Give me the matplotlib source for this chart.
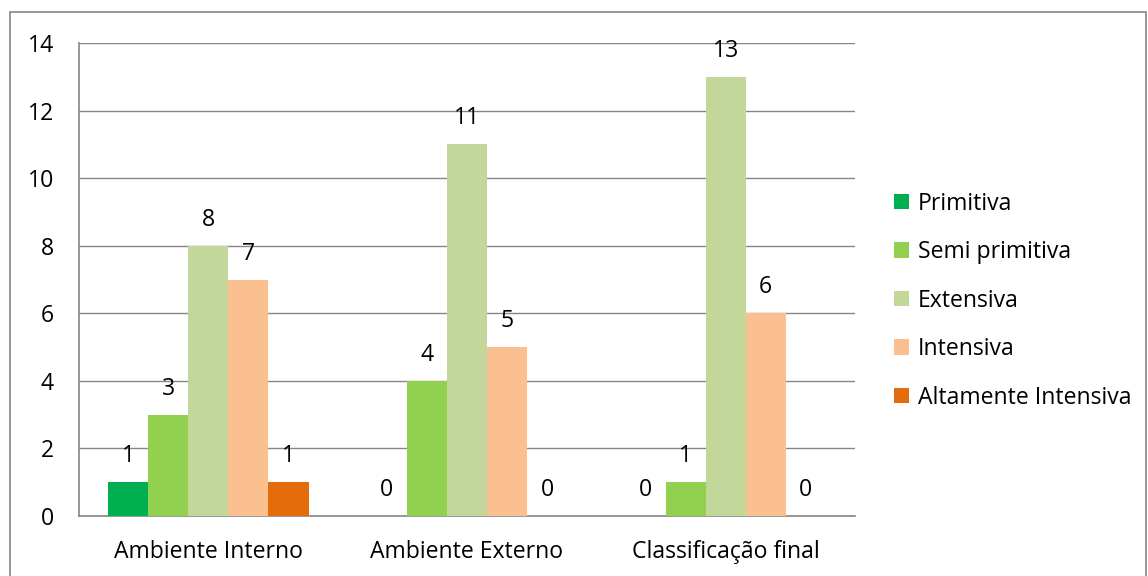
import numpy as np
from matplotlib import pyplot as plt
from matplotlib.patches import Rectangle

# data
categories = ['Ambiente Interno', 'Ambiente Externo', 'Classificação final']
series = ['Primitiva', 'Semi primitiva', 'Extensiva', 'Intensiva', 'Altamente Intensiva']
values = {
    'Primitiva': [1, 0, 0],
    'Semi primitiva': [3, 4, 1],
    'Extensiva': [8, 11, 13],
    'Intensiva': [7, 5, 6],
    'Altamente Intensiva': [1, 0, 0],
}
colors = ['#00B050', '#92D050', '#C4D79B', '#FAC090', '#E46C0A']

plt.rcParams['font.family'] = ['Open Sans', 'DejaVu Sans']
fs = 16.6

fig = plt.figure(figsize=(11.48, 5.76), dpi=100)
ax = fig.add_axes([0.0688, 0.1042, 0.676, 0.8211])

# outer chart border
fig.patches.append(Rectangle((10/1148, -0.02), 1137/1148 - 0.0005, 1 - 12/576 + 0.02,
                             transform=fig.transFigure, fill=False,
                             edgecolor='#868686', lw=1.2))

x = np.arange(len(categories))
w = 0.155
for i, (name, c) in enumerate(zip(series, colors)):
    bars = ax.bar(x + (i - 2) * w, values[name], w, color=c, label=name, zorder=3)
    ax.bar_label(bars, padding=10, fontsize=fs)

ax.set_xlim(-0.5, 2.5)
ax.set_ylim(0, 14)
ax.set_yticks(range(0, 15, 2))
ax.set_xticks(x)
ax.set_xticklabels(categories)
ax.tick_params(axis='both', length=0, labelsize=fs)
ax.tick_params(axis='x', pad=17)
ax.tick_params(axis='y', pad=18)
ax.grid(axis='y', color='#868686', lw=1, zorder=0)
for s in ['top', 'right']:
    ax.spines[s].set_visible(False)
for s in ['left', 'bottom']:
    ax.spines[s].set_color('#868686')
    ax.spines[s].set_linewidth(1.2)

fig.legend(loc='center left', bbox_to_anchor=(0.7605, 0.478), frameon=False,
           fontsize=fs, handlelength=0.65, handleheight=0.65, handletextpad=0.4,
           labelspacing=1.06)

plt.savefig('out.png', dpi=100)
